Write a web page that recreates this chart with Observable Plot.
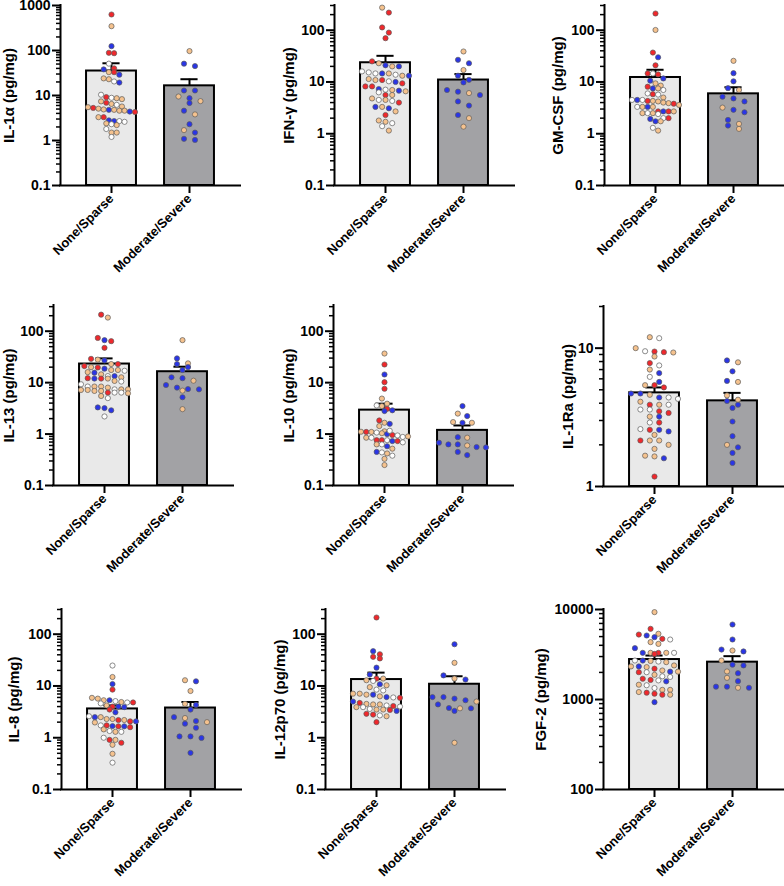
<!DOCTYPE html>
<html><head><meta charset="utf-8">
<script src="https://cdn.jsdelivr.net/npm/d3@7"></script>
<script src="https://cdn.jsdelivr.net/npm/@observablehq/plot@0.6"></script>
<style>
body{margin:0;background:#fff;}
#wrap{position:relative;width:784px;height:886px;overflow:hidden;background:#fff;}
#wrap svg{position:absolute;overflow:visible;}
</style></head><body><div id="wrap"></div>
<script>
// ---------- data ----------
const categories = ["None/Sparse", "Moderate/Severe"];
const colorKeys = ["r", "b", "t", "w"];
const colorValues = ["#f0282c", "#2a35e6", "#f5c28e", "#ffffff"];

const il1a_none = [631,347,125,89,87,51,40,38,33,33,29,24,23,20.5,19.4,10.4,9.2,8.9,8.7,8.3,7.4,6.9,6.5,6.2,5.7,5.5,5.3,5.1,4.9,4.8,4.8,4.6,4.6,4.4,4.3,3.3,3.3,2.8,2.7,2.7,2.6,2.4,2.3,2.2,1.8,1.5,1.5,1.2];
const il1a_none_c = "rtbrrwrbtrbttwbwrwtttrtwttrttbtttbrtrbbwwtwtwttw";
const il1a_mod = [97,51,45,12.9,12.9,9.5,8.7,7.5,6.8,4.6,3.8,2.3,1.7,1.5,1.09,1.03];
const il1a_mod_c = "tbbbbtbtbbtbtbbb";

const ifng_none = [273,219,113,90,70,25,23,21,20,20,16,15.3,14.6,14.6,14.6,13.8,13.2,13.2,11.4,10.9,10.9,10.3,10.0,9.4,8.2,8.2,7.3,7.1,7.0,6.8,6.6,6.3,5.6,5.6,4.8,4.5,4.5,4.3,4.0,3.3,3.3,3.1,2.7,2.3,1.8,1.7,1.6,1.4,1.15];
const ifng_none_c = "trrrrrtbtbwwwbtwtbttrwbrrrbwtbtwrttwtwrbtbtrttwwt";
const ifng_mod = [38.8,26.8,23,17,13.2,11,9.8,7.0,6.5,6.1,5.6,4.2,3.5,2.3,2.0,1.37];
const ifng_mod_c = "tbbtbbbbbtbbbbtt";

const gmcsf_none = [210,101,37,30,21,14.6,14.6,14,11.7,10.6,9.4,8.5,8.1,7.5,7.5,7.0,6.0,5.8,5.7,5.0,4.5,4.5,4.5,4.3,4.3,4.2,4.0,3.9,3.8,3.6,3.3,3.3,3.3,3.3,2.7,2.7,2.7,2.7,2.5,2.5,2.5,2.4,2.0,2.0,1.93,1.74,1.74,1.3,1.15];
const gmcsf_none_c = "rtrbrrwrbbttrbtwwrwtwbwrttttrtwtbtrbrttwtwwrbbtwt";
const gmcsf_mod = [25.6,14.8,10.3,7.6,7.0,5.2,4.8,4.2,3.2,2.9,2.6,1.85,1.55,1.44,1.24];
const gmcsf_mod_c = "tbbbtbbbtbbbtbt";

const il13_none = [210,184,74,67,64,47.5,29,28,27,23,23,21,20,19.7,18.7,17.6,17.6,17,16,15.6,14.5,13.4,13.4,12.7,12.2,12,12,12,10.8,10.5,9.3,8.4,8.4,8.4,8.0,7.4,7.4,7.4,7.2,7.2,6.9,6.9,6.4,6.4,6.4,6.2,5.5,5.0,3.3,3.2,2.9,2.2];
const il13_none_c = "rtrbrrrtbtrrtrbttwtbtwbtrbrttwwwtttwttttttrwwttwbbbw";
const il13_mod = [67,29.6,23.7,23,20,17.6,12.7,12.2,10.9,9.0,8.0,7.5,7.4,7.0,5.2,3.05];
const il13_mod_c = "tbtbbbbbtbbbbtbt";

const il10_none = [36.8,22.5,14.4,10.2,7.6,4.9,3.9,3.6,3.5,3.1,2.9,2.8,1.84,1.66,1.58,1.43,1.13,1.11,1.1,1.1,1.07,1.04,1.0,0.96,0.94,0.88,0.85,0.85,0.76,0.76,0.76,0.73,0.73,0.63,0.63,0.58,0.52,0.45,0.44,0.42,0.38,0.33,0.25,1.16,0.9,0.69];
const il10_none_c = "trbrrttwtrbbrtbtttrtwtbrwwtwrrwbrtwbtbwtwttwtw";
const il10_mod = [3.5,2.5,2.24,1.71,1.66,1.66,0.87,0.85,0.68,0.63,0.63,0.6,0.56,0.55,0.45,0.39];
const il10_mod_c = "btbtbtbtbbbtbbbb";

const il1ra_none = [12.0,11.8,10.0,9.5,9.45,9.35,9.3,8.7,7.8,7.5,7.0,6.6,6.2,5.7,5.4,5.4,5.2,4.7,4.7,4.6,4.4,4.4,4.3,4.1,3.9,3.9,3.9,3.6,3.6,3.5,3.4,3.2,3.2,2.9,2.9,2.6,2.57,2.57,2.5,2.36,2.15,2.15,2.15,2.0,1.87,1.67,1.65,1.6,1.18];
const il1ra_none_c = "twtwrrttrwtbwbtrrbbtbwwtrtwwwrrtbwrwrbbtrttttttbr";
const il1ra_mod = [8.15,7.9,6.8,5.8,5.7,4.55,4.24,4.15,3.9,3.7,2.95,2.31,2.0,1.92,1.75,1.48];
const il1ra_mod_c = "btbbtttbbbbbtbbb";

const il8_none = [24.8,14.9,10.9,8.5,5.9,5.7,5.3,5.3,5.1,4.9,4.8,4.8,4.6,4.2,4.0,4.0,3.9,3.5,3.1,2.6,2.5,2.5,2.3,2.3,2.2,2.2,2.07,2.07,1.97,1.73,1.73,1.68,1.66,1.66,1.6,1.45,1.35,1.3,1.3,1.0,0.91,0.91,0.8,0.73,0.49,0.33];
const il8_none_c = "wtbrtttbwtwrwtrbbrbwbtttrtrbtwrbrbrtwtwwrtrttw";
const il8_mod = [12.9,12.3,8.0,4.5,4.3,3.5,2.5,2.4,2.1,2.0,1.87,1.56,1.06,1.06,0.99,0.51];
const il8_mod_c = "tbttbbbtbtbbbbbb";

const il12_none = [210,47,41,36.5,34,22.6,16.6,13.9,13.9,12.9,12.5,10.8,10.3,9.5,8.5,8.2,7.1,7.1,6.8,6.8,6.3,6.1,6.0,5.9,5.0,4.7,4.5,4.4,4.4,4.2,4.1,4.0,3.9,3.9,3.6,3.5,3.5,3.45,3.3,2.9,2.8,2.7,2.6,2.0];
const il12_none_c = "rbrrrbbrttwbttwwtttbtbwrbrtttwrwtwwttrbrrwtr";
const il12_mod = [64,28,16,13.9,13.3,6.1,6.1,5.7,5.3,5.0,4.4,3.75,3.7,3.7,3.3,0.8];
const il12_mod_c = "btbtbbbbbtbbtbbt";

const fgf2_none = [9350,6100,5370,5270,5140,4930,4720,4640,4340,4150,3720,3300,3300,3300,3300,3300,3210,2710,2710,2680,2640,2600,2390,2330,2330,2290,2200,2100,2040,2040,2010,2010,1880,1810,1780,1700,1650,1630,1590,1460,1440,1340,1280,1280,1210,1190,1160,1130,1130,935];
const fgf2_none_c = "trtrbbrwttbbtrtwrwbtwtttbtrtbtrwtwwrrwbtwwtttrrrtb";
const fgf2_mod = [6810,4640,3590,3500,3420,2710,2440,2390,2050,1960,1740,1600,1390,1390,1350,1350];
const fgf2_mod_c = "bbbtbtbbtbtbbbtb";

// bar heights (mean) and SEM, [None/Sparse, Moderate/Severe]
const means = [[35,16.4],[23.5,10.9],[12.2,5.9],[23,16.3],[2.92,1.18],[4.75,4.16],[3.6,3.75],[13.3,10.8],[2780,2600]];
const sems  = [[17,6.6],[8.5,3.3],[5.0,2.0],[6.6,4.1],[0.98,0.29],[0.45,0.59],[0.6,1.15],[4.8,4.6],[300,430]];

const yLabels = ["IL-1α (pg/mg)","IFN-γ (pg/mg)","GM-CSF (pg/mg)","IL-13 (pg/mg)","IL-10 (pg/mg)","IL-1Ra (pg/mg)","IL-8 (pg/mg)","IL-12p70 (pg/mg)","FGF-2 (pg/mg)"];
const yDomains = [[0.1,1000],[0.1,300],[0.1,300],[0.1,316],[0.1,316],[1,20],[0.1,300],[0.1,300],[100,10000]];
const yTickValues = [[0.1,1,10,100,1000],[0.1,1,10,100],[0.1,1,10,100],[0.1,1,10,100],[0.1,1,10,100],[1,10],[0.1,1,10,100],[0.1,1,10,100],[100,1000,10000]];

// ---------- layout ----------
const layout = [
  {ax:60, top:5, lab:51},{ax:334, top:5, lab:45},{ax:604, top:5, lab:46},
  {ax:53, top:305, lab:44},{ax:333, top:305, lab:44},{ax:603, top:306, lab:35},
  {ax:61, top:609, lab:47},{ax:325, top:609, lab:45},{ax:603, top:609, lab:62}
];
const groups = [
  [il1a_none, il1a_none_c, il1a_mod, il1a_mod_c],
  [ifng_none, ifng_none_c, ifng_mod, ifng_mod_c],
  [gmcsf_none, gmcsf_none_c, gmcsf_mod, gmcsf_mod_c],
  [il13_none, il13_none_c, il13_mod, il13_mod_c],
  [il10_none, il10_none_c, il10_mod, il10_mod_c],
  [il1ra_none, il1ra_none_c, il1ra_mod, il1ra_mod_c],
  [il8_none, il8_none_c, il8_mod, il8_mod_c],
  [il12_none, il12_none_c, il12_mod, il12_mod_c],
  [fgf2_none, fgf2_none_c, fgf2_mod, fgf2_mod_c]
];

const FRAME = 180, STEP = 78, ML = 72, MR = 4, MT = 8, MB = 100;
const xDom = [-51/STEP, 129/STEP];
const FONT = "'Liberation Sans', Arial, Helvetica, sans-serif";

// row-based scatter layout (like GraphPad column scatter)
function swarm(values, codes, i, dom) {
  const ys = d3.scaleLog().domain(dom).range([FRAME, 0]);
  const pts = values.map((v, k) => ({v, c: codes[k], py: ys(v), idx: k, i}));
  const sorted = pts.slice().sort((a, b) => a.py - b.py);
  const rows = []; let cur = null;
  for (const p of sorted) {
    if (!cur || p.py - cur[0].py > 5.5) { cur = [p]; rows.push(cur); } else cur.push(p);
  }
  const maxN = d3.max(rows, r => r.length);
  const s = Math.min(11, 47 / Math.max(1, maxN - 1));
  for (const r of rows) {
    r.sort((a, b) => a.idx - b.idx);
    r.forEach((p, k) => { p.x = i + ((k - (r.length - 1) / 2) * s) / STEP; });
  }
  return pts;
}
function minorTicks(dom) {
  const out = [];
  for (let d = Math.floor(Math.log10(dom[0])); d <= Math.ceil(Math.log10(dom[1])); d++) {
    for (let m = 2; m <= 9; m++) {
      const v = +(m * Math.pow(10, d)).toPrecision(3);
      if (v > dom[0] && v <= dom[1] * 1.0001) out.push(v);
    }
  }
  return out;
}
const fmt = v => String(v);

const wrap = document.getElementById("wrap");
for (let p = 0; p < 9; p++) {
  const dom = yDomains[p];
  const [nv, nc, mv, mc] = groups[p];
  const bars = [0, 1].map(i => ({i, mean: means[p][i], top: means[p][i] + sems[p][i]}));
  const pts = [...swarm(nv, nc, 0, dom), ...swarm(mv, mc, 1, dom)];
  const svg = Plot.plot({
    width: ML + FRAME + MR, height: MT + FRAME + MB,
    marginLeft: ML, marginRight: MR, marginTop: MT, marginBottom: MB,
    x: {type: "linear", domain: xDom},
    y: {type: "log", domain: dom, label: null},
    color: {domain: colorKeys, range: colorValues},
    style: {fontFamily: FONT, fontSize: "14px", background: "transparent", overflow: "visible", color: "black"},
    marks: [
      Plot.rectY([bars[0]], {x1: d => d.i - 0.32, x2: d => d.i + 0.32, y1: dom[0], y2: "mean", fill: "#e9e9e9", stroke: "black", strokeWidth: 2}),
      Plot.rectY([bars[1]], {x1: d => d.i - 0.32, x2: d => d.i + 0.32, y1: dom[0], y2: "mean", fill: "#a2a2a5", stroke: "black", strokeWidth: 2}),
      Plot.ruleX(bars, {x: "i", y1: "mean", y2: "top", stroke: "black", strokeWidth: 2}),
      Plot.ruleY(bars, {y: "top", x1: d => d.i - 0.11, x2: d => d.i + 0.11, stroke: "black", strokeWidth: 2}),
      Plot.dot(pts, {x: "x", y: "v", fill: "c", r: 2.6, stroke: "#5c5c5c", strokeWidth: 0.7}),
      Plot.ruleX([xDom[0]], {y1: dom[0], y2: dom[1], stroke: "black", strokeWidth: 2, strokeLinecap: "square"}),
      Plot.ruleY([dom[0]], {x1: xDom[0], x2: xDom[1], stroke: "black", strokeWidth: 2, strokeLinecap: "square"}),
      Plot.axisY({ticks: minorTicks(dom), tickSize: 4, tickFormat: () => "", strokeWidth: 1.5, label: null}),
      Plot.axisY({ticks: yTickValues[p], tickSize: 8, tickPadding: 2, tickFormat: fmt, strokeWidth: 2, fontWeight: "bold", label: null}),
      Plot.axisX({ticks: [0, 1], tickSize: 8, tickPadding: 3, tickFormat: i => categories[i], tickRotate: -45, strokeWidth: 2, fontWeight: "bold", label: null}),
      Plot.text([yLabels[p]], {text: d => d, x: xDom[0] - layout[p].lab / STEP, y: Math.sqrt(dom[0] * dom[1]), rotate: -90, fontSize: 15, fontWeight: "bold", fill: "black"})
    ]
  });
  // enforce font sizes on axis texts
  svg.querySelectorAll("text").forEach(t => {
    const g = t.closest("g[aria-label]");
    const lab = g ? g.getAttribute("aria-label") : "";
    if (lab.startsWith("y-axis")) t.style.fontSize = "14px";
    else if (lab.startsWith("x-axis")) t.style.fontSize = "13px";
  });
  svg.style.left = (layout[p].ax - ML) + "px";
  svg.style.top = (layout[p].top - MT) + "px";
  wrap.appendChild(svg);
}
</script></body></html>
